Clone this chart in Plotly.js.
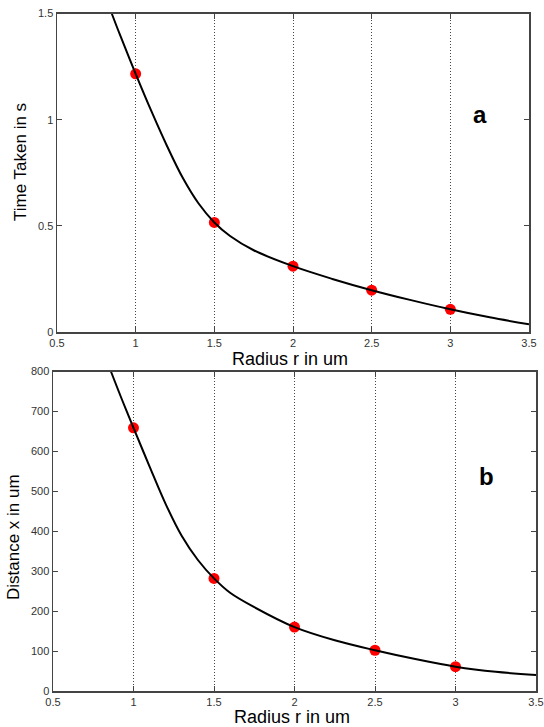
<!DOCTYPE html>
<html>
<head>
<meta charset="utf-8">
<script src="https://cdn.plot.ly/plotly-3.0.1.min.js"></script>
<style>html,body{margin:0;padding:0;background:#fff;}#plot{width:544px;height:727px;}</style>
</head>
<body>
<div id="plot"></div>
<script>
// Measured points (markers)
const radiusPts = [1, 1.5, 2, 2.5, 3];
const timePts = [1.216, 0.516, 0.31, 0.197, 0.107];
const distPts = [659, 282, 160, 102, 61];

// Fitted curves
const radiusCurveA = [0.848, 0.9, 1.0, 1.1, 1.2, 1.3, 1.4, 1.5, 1.6, 1.75, 2.0, 2.25, 2.5, 2.75, 3.0, 3.25, 3.5];
const timeCurve    = [1.5, 1.40, 1.216, 1.04, 0.875, 0.725, 0.605, 0.516, 0.452, 0.385, 0.31, 0.25, 0.197, 0.15, 0.107, 0.069, 0.036];
const radiusCurveB = [0.86, 0.93, 1.0, 1.1, 1.2, 1.3, 1.4, 1.5, 1.6, 1.75, 2.0, 2.25, 2.5, 2.75, 3.0, 3.25, 3.5];
const distCurve    = [800, 728, 659, 562, 468, 388, 328, 282, 246, 210, 160, 127, 102, 80, 61, 48, 40];

const xTicks = [0.5, 1, 1.5, 2, 2.5, 3, 3.5];
const xTickText = ['0.5', '1', '1.5', '2', '2.5', '3', '3.5'];
const yTicksA = [0, 0.5, 1, 1.5];
const yTickTextA = ['0', '0.5', '1', '1.5'];
const yTicksB = [0, 100, 200, 300, 400, 500, 600, 700, 800];
const yTickTextB = ['0', '100', '200', '300', '400', '500', '600', '700', '800'];
const panelLabels = ['a', 'b'];
const xTitle = 'Radius r in um';
const yTitleA = 'Time Taken in s';
const yTitleB = 'Distance x in um';

const W = 544, H = 727;
const fontFam = 'Liberation Sans, Arial, sans-serif';

const traces = [
  {x: radiusPts, y: timePts, xaxis: 'x', yaxis: 'y', mode: 'markers', type: 'scatter',
   marker: {color: '#ff0000', size: 11}},
  {x: radiusCurveA, y: timeCurve, xaxis: 'x', yaxis: 'y', mode: 'lines', type: 'scatter',
   line: {color: '#000', width: 2, shape: 'spline', smoothing: 1}},
  {x: radiusPts, y: distPts, xaxis: 'x2', yaxis: 'y2', mode: 'markers', type: 'scatter',
   marker: {color: '#ff0000', size: 11}},
  {x: radiusCurveB, y: distCurve, xaxis: 'x2', yaxis: 'y2', mode: 'lines', type: 'scatter',
   line: {color: '#000', width: 2, shape: 'spline', smoothing: 1}}
];

function xAxis(domain, anchor) {
  return {
    domain: domain, anchor: anchor, range: [0.5, 3.5],
    tickmode: 'array', tickvals: xTicks, ticktext: xTickText,
    ticks: 'inside', ticklen: 5, tickcolor: '#444',
    showline: true, linecolor: '#444', linewidth: 1.5, mirror: 'ticks',
    showgrid: true, gridcolor: '#444', gridwidth: 1, griddash: '1px,2px',
    zeroline: false,
    tickfont: {family: fontFam, size: 11, color: '#333'}
  };
}
function yAxis(domain, anchor, range, vals, text) {
  return {
    domain: domain, anchor: anchor, range: range,
    tickmode: 'array', tickvals: vals, ticktext: text,
    ticks: 'inside', ticklen: 5, tickcolor: '#444',
    showline: true, linecolor: '#444', linewidth: 1.5, mirror: 'ticks',
    showgrid: false, zeroline: false,
    tickfont: {family: fontFam, size: 11, color: '#333'}
  };
}

function label(text, px, py, size, angle, bold) {
  const f = {family: fontFam, size: size, color: '#000'};
  if (bold) f.weight = 'bold';
  return {text: text, xref: 'paper', yref: 'paper', x: px / W, y: 1 - py / H,
          xanchor: 'center', yanchor: 'middle', showarrow: false, textangle: angle,
          borderpad: 0, font: f};
}

const layout = {
  width: W, height: H,
  margin: {l: 0, r: 0, t: 0, b: 0},
  paper_bgcolor: '#fff', plot_bgcolor: '#fff',
  showlegend: false,
  xaxis: xAxis([57 / W, 529 / W], 'y'),
  yaxis: yAxis([1 - 332 / H, 1 - 13.5 / H], 'x', [0, 1.5], yTicksA, yTickTextA),
  xaxis2: xAxis([53 / W, 536 / W], 'y2'),
  yaxis2: yAxis([1 - 691 / H, 1 - 371.5 / H], 'x2', [0, 800], yTicksB, yTickTextB),
  annotations: [
    label(xTitle, 290, 359, 18, 0, false),
    label(xTitle, 292, 717, 18, 0, false),
    label(yTitleA, 20, 162, 17, -90, false),
    label(yTitleB, 13, 537, 17, -90, false),
    label(panelLabels[0], 480, 114, 24, 0, true),
    label(panelLabels[1], 486, 476, 24, 0, true)
  ]
};

Plotly.newPlot('plot', traces, layout, {displayModeBar: false, staticPlot: true});
</script>
</body>
</html>
